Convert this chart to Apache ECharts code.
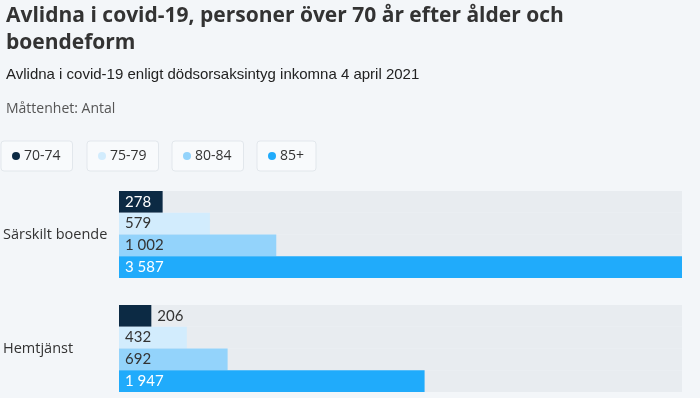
<!DOCTYPE html>
<html>
<head>
	<meta charset="utf-8">
	<title>Avlidna i covid-19</title>
	<style>
		html, body { margin: 0; padding: 0; background: #f3f6f9; overflow: hidden; }
		#container { width: 700px; height: 420px; }
	</style>
</head>
<body>
<script type="text/javascript" src="https://cdn.jsdelivr.net/npm/echarts@6/dist/echarts.min.js"></script>
<div id="container"></div>
<script type="text/javascript">
    // data
    var categories = ['Särskilt boende', 'Hemtjänst'];
    var ageGroups = ['70-74', '75-79', '80-84', '85+'];
    var v70_74 = [278, 206];
    var v75_79 = [579, 432];
    var v80_84 = [1002, 692];
    var v85plus = [3587, 1947];

    var colors = ['#0c2a44', '#d2ecfd', '#93d3fb', '#20abfb'];
    var labelColors = ['#ffffff', '#333333', '#333333', '#ffffff'];
    var allValues = [v70_74, v75_79, v80_84, v85plus];

    var myChart = echarts.init(document.getElementById('container'));

    function fmt(v) {
        return String(v).replace(/\B(?=(\d{3})+(?!\d))/g, ' ');
    }

    var series = ageGroups.map(function (name, i) {
        return {
            name: name,
            type: 'bar',
            barWidth: 21.75,
            barGap: 0,
            showBackground: true,
            backgroundStyle: { color: '#e8ecf0' },
            itemStyle: { color: colors[i] },
            label: {
                show: true,
                position: 'insideLeft',
                distance: 6,
                color: labelColors[i],
                fontFamily: 'Lato',
                fontSize: 15,
                formatter: function (p) { return fmt(p.value); }
            },
            data: allValues[i].map(function (v) {
                // small bars get their label outside
                if (v < 250) {
                    return { value: v, label: { position: 'right', color: '#333333', distance: 6 } };
                }
                return v;
            })
        };
    });

    // one boxed legend per age group
    var legendLeft = [1, 87, 172, 257];
    var legends = ageGroups.map(function (name, i) {
        return {
            data: [name],
            left: legendLeft[i],
            top: 141,
            orient: 'horizontal',
            icon: 'circle',
            itemWidth: 8,
            itemHeight: 8,
            itemGap: 5,
            padding: [8, 12, 8, 11],
            backgroundColor: '#f8fafc',
            borderColor: '#e2e7ec',
            borderWidth: 1,
            borderRadius: 3,
            selectedMode: false,
            textStyle: { color: '#333333', fontFamily: 'Open Sans', fontSize: 14, padding: [0, 0, 0, -1] }
        };
    });

    var option = {
        backgroundColor: '#f3f6f9',
        animation: false,
        title: [
            {
                text: 'Avlidna i covid-19, personer över 70 år efter ålder och\nboendeform',
                left: 1,
                top: -2,
                textStyle: { fontFamily: 'Open Sans', fontWeight: 'bold', fontSize: 21, color: '#333333', lineHeight: 27 }
            },
            {
                text: 'Avlidna i covid-19 enligt dödsorsaksintyg inkomna 4 april 2021',
                left: 1,
                top: 62,
                textStyle: { fontFamily: 'Liberation Sans', fontWeight: 'normal', fontSize: 15, color: '#222222' }
            },
            {
                text: 'Måttenhet: Antal',
                left: 1,
                top: 97,
                textStyle: { fontFamily: 'Open Sans', fontWeight: 'normal', fontSize: 14, color: '#555555' }
            }
        ],
        legend: legends,
        grid: { left: 118, right: 18, top: 177.5, height: 228, containLabel: false },
        xAxis: {
            type: 'value',
            min: 0,
            max: 3587,
            show: false
        },
        yAxis: {
            type: 'category',
            data: categories,
            inverse: true,
            axisLine: { show: false },
            axisTick: { show: false },
            axisLabel: {
                align: 'left',
                margin: 116,
                color: '#333333',
                fontFamily: 'Open Sans',
                fontSize: 14.5
            }
        },
        series: series
    };

    myChart.setOption(option);
    window.addEventListener('resize', myChart.resize);
</script>
</body>
</html>
